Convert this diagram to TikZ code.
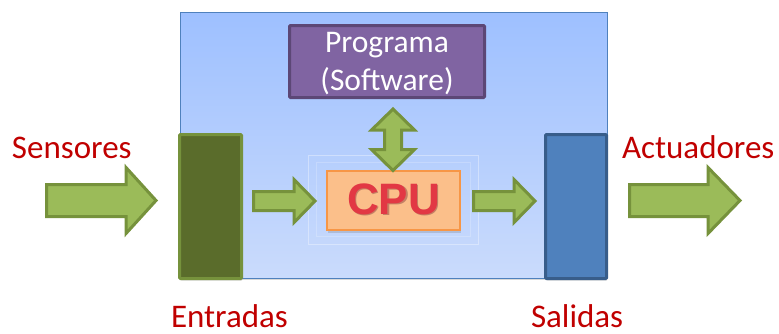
\documentclass[tikz,border=0pt]{standalone}
\usepackage{fontspec}
\setmainfont{Carlito}
\newfontfamily\cpufont{Liberation Sans}
\usetikzlibrary{calc,shadows}

\definecolor{lbl}{RGB}{192,0,0}
\definecolor{bgtop}{RGB}{158,192,255}
\definecolor{bgbot}{RGB}{202,219,252}
\definecolor{bgline}{RGB}{79,129,189}
\definecolor{arrfill}{RGB}{155,187,89}
\definecolor{arrline}{RGB}{118,146,60}
\definecolor{infill}{RGB}{90,108,43}
\definecolor{outfill}{RGB}{79,129,189}
\definecolor{outline}{RGB}{56,93,138}
\definecolor{progfill}{RGB}{128,100,162}
\definecolor{progline}{RGB}{92,71,118}
\definecolor{cpufill}{RGB}{251,191,138}
\definecolor{cpuline}{RGB}{247,150,70}
\definecolor{cpured}{RGB}{226,56,68}
\definecolor{cpushade}{RGB}{196,128,100}

\tikzset{
  x=1pt, y=-1pt,
  every node/.style={inner sep=0pt, outer sep=0pt},
  sysbox/.style={draw=bgline, line width=0.8pt, top color=bgtop, bottom color=bgbot,
    drop shadow={shadow xshift=0pt, shadow yshift=-2pt, opacity=0.3}},
  bar/.style={line width=3pt, rounded corners=1pt,
    drop shadow={shadow xshift=1pt, shadow yshift=-2pt, opacity=0.3}},
  progbox/.style={draw=progline, fill=progfill, line width=3pt, rounded corners=1pt},
  progtext/.style={text=white, align=center, font=\fontsize{31.5}{38}\selectfont},
  cpubox/.style={draw=cpuline, fill=cpufill, line width=1.6pt,
    drop shadow={shadow xshift=1pt, shadow yshift=-3pt, opacity=0.3}},
  cpuletters/.style={font=\cpufont\bfseries\fontsize{44}{44}\selectfont},
  blockarrow/.style={draw=arrline, fill=arrfill, line width=3pt, line join=miter},
  label/.style={text=lbl, font=\fontsize{33}{38}\selectfont, anchor=base west}
}

% horizontal block arrow: start, tip, shaft half width, head half width, head length
\newcommand\harrow[5]{%
  \draw[blockarrow]
    ($(#1)+(0,-#3)$) -- ($(#2)+(-#5,-#3)$) -- ($(#2)+(-#5,-#4)$) -- (#2)
    -- ($(#2)+(-#5,#4)$) -- ($(#2)+(-#5,#3)$) -- ($(#1)+(0,#3)$) -- cycle;}

% vertical double-headed block arrow: top tip, bottom tip, shaft half, head half, head length
\newcommand\vdarrow[5]{%
  \draw[blockarrow]
    (#1) -- ($(#1)+(#4,#5)$) -- ($(#1)+(#3,#5)$) -- ($(#2)+(#3,-#5)$)
    -- ($(#2)+(#4,-#5)$) -- (#2) -- ($(#2)+(-#4,-#5)$) -- ($(#2)+(-#3,-#5)$)
    -- ($(#1)+(-#3,#5)$) -- ($(#1)+(-#4,#5)$) -- cycle;}

\begin{document}
\begin{tikzpicture}
\useasboundingbox (0,0) rectangle (779,333);

% the system box
\node[sysbox, minimum width=427pt, minimum height=266pt] (sys) at (393.5,145) {};

% faint frame around the processor
\draw[white, opacity=0.35, line width=0.6pt] (308,155) rectangle (478,244);
\draw[white, opacity=0.2, line width=0.6pt] (316,162) rectangle (470,236);

% input and output blocks
\node[bar, draw=arrline, fill=infill, minimum width=62pt, minimum height=144pt] (inbar) at (210.5,206.5) {};
\node[bar, draw=outline, fill=outfill, minimum width=61pt, minimum height=144pt] (outbar) at (576,206.5) {};

% program box
\node[progbox, minimum width=195pt, minimum height=72pt] (prog) at (387,61.5) {};
\node[progtext] (progtxt) at (387,63.5) {Programa\\(Software)};

% processor, its lettering with a soft shadow behind
\node[cpubox, minimum width=133pt, minimum height=59pt] (cpu) at (393.5,200.5) {};
\node[cpuletters, text=cpured] (cputext) at (393.5,200)
  {\makebox[0pt][l]{\raisebox{-1.4pt}{\hspace{1.3pt}\textcolor{cpushade}{CPU}}}CPU};

% arrow end points
\coordinate (sensA) at (46.5,200.5);
\coordinate (sensB) at (156,200.5);
\coordinate (inA) at (253.5,201);
\coordinate (inB) at (315,201);
\coordinate (outA) at (473.5,201);
\coordinate (outB) at (535,201);
\coordinate (actA) at (629.5,200.5);
\coordinate (actB) at (740,200.5);
\coordinate (progT) at (393,109);
\coordinate (cpuT) at (393,170.5);

\harrow{sensA}{sensB}{16}{33}{30}
\harrow{inA}{inB}{9.5}{21.5}{21}
\harrow{outA}{outB}{9.5}{21.5}{21}
\harrow{actA}{actB}{16}{33}{32}
\vdarrow{progT}{cpuT}{8.5}{21.5}{21}

% labels
\node[label] (sensores) at (12,158) {Sensores};
\node[label] (actuadores) at (622,158) {Actuadores};
\node[label] (entradas) at (171,327) {Entradas};
\node[label] (salidas) at (531,327) {Salidas};
\end{tikzpicture}
\end{document}
